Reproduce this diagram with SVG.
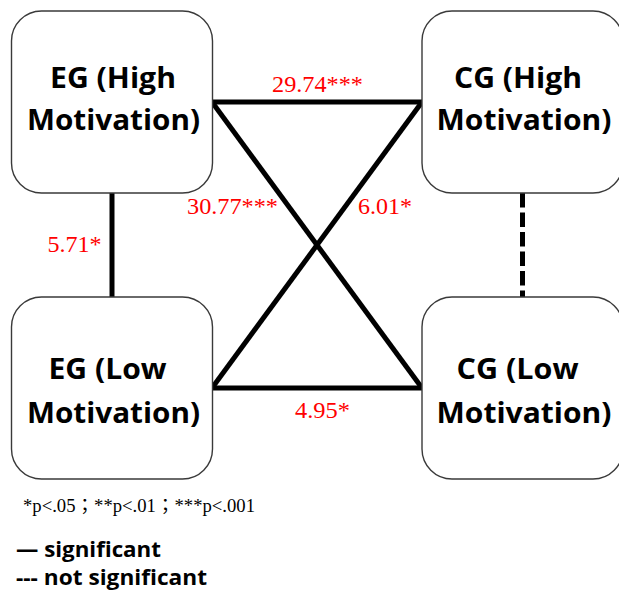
<svg xmlns="http://www.w3.org/2000/svg" width="619" height="596" viewBox="0 0 619 596">
  <style>
    .box { fill: #ffffff; stroke: #3a3a3a; stroke-width: 1.4; }
    .lbl { font-family: "Open Sans", "Liberation Sans", sans-serif; font-weight: bold; font-size: 29px; fill: #000; text-anchor: middle; }
    .edge { stroke: #000; stroke-width: 5; fill: none; }
    .dash { stroke-dasharray: 14.5 5; }
    .val { font-family: "Liberation Serif", "Times New Roman", serif; font-size: 23px; fill: #ff0000; }
    .note { font-family: "Liberation Serif", "Times New Roman", "Noto Sans CJK TC", serif; font-size: 18px; fill: #000; }
    .key { font-family: "Open Sans", "Liberation Sans", sans-serif; font-weight: bold; font-size: 21px; fill: #000; }
  </style>
  <rect width="619" height="596" fill="#ffffff"/>

  <!-- connectors -->
  <g id="connectors">
    <line class="edge" x1="212" y1="102" x2="422" y2="102"/>
    <line class="edge" x1="212" y1="388" x2="422" y2="388"/>
    <line class="edge" x1="212" y1="102" x2="422" y2="388"/>
    <line class="edge" x1="212" y1="388" x2="422" y2="102"/>
    <line class="edge" x1="112" y1="193" x2="112" y2="297"/>
    <line class="edge dash" x1="522.5" y1="193" x2="522.5" y2="297"/>
  </g>

  <!-- nodes -->
  <g id="eg-high">
    <rect class="box" x="11.5" y="11" width="201" height="182" rx="30"/>
    <text class="lbl" x="113" y="87.5" textLength="126" lengthAdjust="spacingAndGlyphs">EG (High</text>
    <text class="lbl" x="113.5" y="130" textLength="173" lengthAdjust="spacingAndGlyphs">Motivation)</text>
  </g>
  <g id="cg-high">
    <rect class="box" x="422" y="11" width="201" height="182" rx="30"/>
    <text class="lbl" x="518" y="87.5" textLength="128" lengthAdjust="spacingAndGlyphs">CG (High</text>
    <text class="lbl" x="524" y="130" textLength="175" lengthAdjust="spacingAndGlyphs">Motivation)</text>
  </g>
  <g id="eg-low">
    <rect class="box" x="11.5" y="297" width="201" height="182" rx="30"/>
    <text class="lbl" x="107.5" y="379" textLength="118" lengthAdjust="spacingAndGlyphs">EG (Low</text>
    <text class="lbl" x="113.5" y="422.5" textLength="173" lengthAdjust="spacingAndGlyphs">Motivation)</text>
  </g>
  <g id="cg-low">
    <rect class="box" x="422" y="297" width="201" height="182" rx="30"/>
    <text class="lbl" x="517.5" y="379" textLength="122" lengthAdjust="spacingAndGlyphs">CG (Low</text>
    <text class="lbl" x="524" y="422.5" textLength="175" lengthAdjust="spacingAndGlyphs">Motivation)</text>
  </g>

  <!-- path coefficients -->
  <g id="values">
    <text class="val" x="272" y="91.5" textLength="91" lengthAdjust="spacingAndGlyphs">29.74***</text>
    <text class="val" x="187" y="214" textLength="91" lengthAdjust="spacingAndGlyphs">30.77***</text>
    <text class="val" x="358" y="214" textLength="54" lengthAdjust="spacingAndGlyphs">6.01*</text>
    <text class="val" x="47.5" y="251.5" textLength="54" lengthAdjust="spacingAndGlyphs">5.71*</text>
    <text class="val" x="295" y="418" textLength="55" lengthAdjust="spacingAndGlyphs">4.95*</text>
  </g>

  <!-- legend -->
  <g id="legend">
    <text class="note" x="23" y="511.5" textLength="232" lengthAdjust="spacingAndGlyphs">*p&lt;.05；**p&lt;.01；***p&lt;.001</text>
    <text class="key" x="16" y="556.5" textLength="145" lengthAdjust="spacingAndGlyphs">— significant</text>
    <text class="key" x="16" y="585" textLength="191" lengthAdjust="spacingAndGlyphs">--- not significant</text>
  </g>
</svg>
